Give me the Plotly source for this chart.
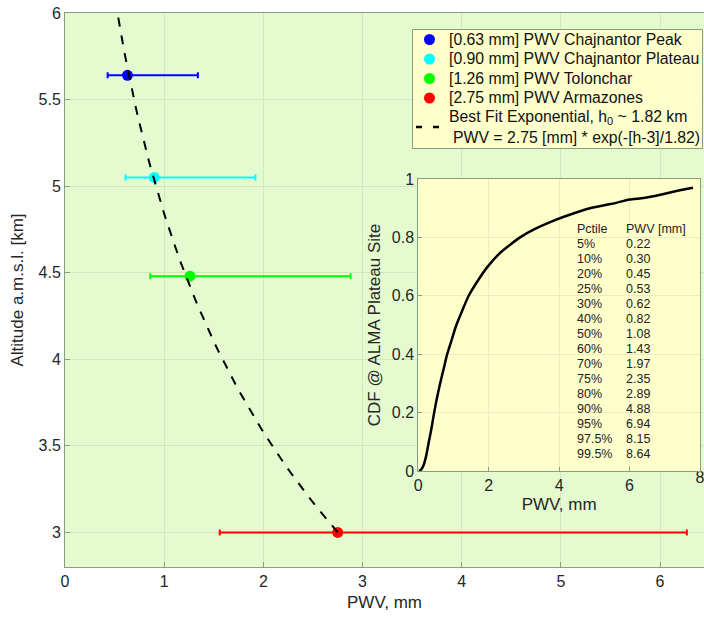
import numpy as np
import plotly.graph_objects as go

# ---- data ----
site_names = ["[0.63 mm] PWV Chajnantor Peak", "[0.90 mm] PWV Chajnantor Plateau",
              "[1.26 mm] PWV Tolonchar", "[2.75 mm] PWV Armazones"]
site_pwv = [0.63, 0.90, 1.26, 2.75]
site_alt = [5.64, 5.05, 4.48, 3.00]
site_pwv_low = [0.43, 0.61, 0.86, 1.56]
site_pwv_high = [1.34, 1.92, 2.88, 6.27]
site_colors = ["#0000FF", "#00FFFF", "#00FF00", "#FF0000"]

FIT_PWV0 = 2.75
FIT_H0 = 1.82
FIT_HREF = 3.0
fit_label_1 = "Best Fit Exponential, h<sub>0</sub> ~ 1.82 km"
fit_label_2 = "PWV = 2.75 [mm] * exp(-[h-3]/1.82)"
fit_h = np.linspace(3.0, 6.0, 61)
fit_pwv = FIT_PWV0 * np.exp(-(fit_h - FIT_HREF) / FIT_H0)

cdf_pwv = [0.02, 0.08, 0.15, 0.22, 0.30, 0.38, 0.45, 0.53, 0.62, 0.72, 0.82, 0.95, 1.08,
           1.25, 1.43, 1.68, 1.97, 2.35, 2.89, 3.30, 3.90, 4.40, 4.88, 5.50, 6.00, 6.40,
           6.94, 7.30, 7.80]
cdf_val = [0.00, 0.005, 0.02, 0.05, 0.10, 0.15, 0.20, 0.25, 0.30, 0.35, 0.40, 0.45, 0.50,
           0.55, 0.60, 0.65, 0.70, 0.75, 0.80, 0.828, 0.86, 0.882, 0.90, 0.915, 0.93, 0.935,
           0.948, 0.958, 0.97]

pctile_labels = ["5%", "10%", "20%", "25%", "30%", "40%", "50%", "60%", "70%",
                 "75%", "80%", "90%", "95%", "97.5%", "99.5%"]
pctile_values = ["0.22", "0.30", "0.45", "0.53", "0.62", "0.82", "1.08", "1.43", "1.97",
                 "2.35", "2.89", "4.88", "6.94", "8.15", "8.64"]

inset_xticks = [0, 2, 4, 6, 8]

FONT = "Liberation Sans, Arial, Helvetica, sans-serif"
GREEN_BG = "#E4FBCF"
YELLOW_BG = "#FFFFCC"
AXCOL = "#8C9C84"

# layout geometry (pixels)
W, H = 704, 620
ML, MR, MT, MB = 65, 0, 13, 53
PW, PH = W - ML - MR, H - MT - MB
INSET_L, INSET_R, INSET_T, INSET_B = 418.3, 700, 179, 471


def px(xp):
    return (xp - ML) / PW


def py(yp):
    return (H - MB - yp) / PH


tickfont = dict(family=FONT, size=16, color="#262626")
titlefont = dict(family=FONT, size=17, color="#262626")

fig = go.Figure()

for name, x, y, lo, hi, c in zip(site_names, site_pwv, site_alt, site_pwv_low, site_pwv_high, site_colors):
    fig.add_trace(go.Scatter(
        x=[x], y=[y], mode="markers", name=name, showlegend=False,
        marker=dict(color=c, size=11, symbol="circle"),
        error_x=dict(type="data", symmetric=False, array=[hi - x], arrayminus=[x - lo],
                     color=c, thickness=2, width=3),
        xaxis="x", yaxis="y"))

fig.add_trace(go.Scatter(
    x=fit_pwv, y=fit_h, mode="lines", showlegend=False,
    line=dict(color="black", width=2, dash="dash"), xaxis="x", yaxis="y"))

fig.add_trace(go.Scatter(
    x=cdf_pwv, y=cdf_val, mode="lines", showlegend=False,
    line=dict(color="black", width=2.5, shape="spline", smoothing=0.5),
    xaxis="x2", yaxis="y2"))

# last inset tick label (partly cut by the page edge, as in the original)
fig.add_trace(go.Scatter(
    x=[inset_xticks[-1]], y=[0], mode="text", text=[str(inset_xticks[-1])],
    textposition="bottom center", textfont=tickfont, cliponaxis=False,
    showlegend=False, hoverinfo="skip", xaxis="x2", yaxis="y2"))

# table in inset
tfont = dict(family=FONT, size=12.5, color="#222")


def ypos(i):
    return 0.829 - 0.0514 * i


fig.add_annotation(x=4.45, y=ypos(0), xref="x2", yref="y2", text="Pctile", showarrow=False,
                   xanchor="left", yanchor="middle", font=tfont)
fig.add_annotation(x=5.85, y=ypos(0), xref="x2", yref="y2", text="PWV [mm]", showarrow=False,
                   xanchor="left", yanchor="middle", font=tfont)
for i, (lab, val) in enumerate(zip(pctile_labels, pctile_values)):
    fig.add_annotation(x=4.45, y=ypos(i + 1), xref="x2", yref="y2", text=lab, showarrow=False,
                       xanchor="left", yanchor="middle", font=tfont)
    fig.add_annotation(x=5.85, y=ypos(i + 1), xref="x2", yref="y2", text=val, showarrow=False,
                       xanchor="left", yanchor="middle", font=tfont)

# green background for main axes
fig.add_shape(type="rect", xref="x domain", yref="y domain", x0=0, x1=1, y0=0, y1=1,
              fillcolor=GREEN_BG, line=dict(width=0), layer="below")

# ---- manual legend ----
fig.add_shape(type="rect", xref="paper", yref="paper",
              x0=px(412.5), x1=px(702.5), y0=py(148.5), y1=py(29.5),
              fillcolor=YELLOW_BG, line=dict(color=AXCOL, width=1), layer="above")
lfont = dict(family=FONT, size=15.8, color="#111")
row_y = [39.5, 59, 78.5, 98]
for name, c, ry in zip(site_names, site_colors, row_y):
    fig.add_shape(type="circle", xref="paper", yref="paper",
                  xsizemode="pixel", ysizemode="pixel",
                  xanchor=px(429.5), yanchor=py(ry), x0=-5.5, x1=5.5, y0=-5.5, y1=5.5,
                  fillcolor=c, line=dict(color=c, width=0), layer="above")
    fig.add_annotation(x=px(447), y=py(ry), xref="paper", yref="paper", text=name,
                       showarrow=False, xanchor="left", yanchor="middle", font=lfont)
fig.add_shape(type="line", xref="paper", yref="paper", x0=px(416), x1=px(440),
              y0=py(127), y1=py(127), line=dict(color="black", width=2.5, dash="6px,11px"),
              layer="above")
fig.add_annotation(x=px(447), y=py(117), xref="paper", yref="paper", text=fit_label_1,
                   showarrow=False, xanchor="left", yanchor="middle", font=lfont)
fig.add_annotation(x=px(451), y=py(137.5), xref="paper", yref="paper", text=fit_label_2,
                   showarrow=False, xanchor="left", yanchor="middle", font=lfont)

fig.update_layout(
    width=W, height=H,
    margin=dict(l=ML, r=MR, t=MT, b=MB, autoexpand=False),
    paper_bgcolor="white",
    plot_bgcolor=YELLOW_BG,
    font=dict(family=FONT, color="#262626"),
    showlegend=False,
    xaxis=dict(domain=[0, 1], range=[0, PW / 99.17], tickvals=[0, 1, 2, 3, 4, 5, 6],
               showgrid=True, gridcolor="#D3E6C3", zeroline=False, automargin=False,
               showline=True, linecolor=AXCOL, linewidth=1, mirror=True,
               ticks="inside", ticklen=5, tickcolor=AXCOL, tickfont=tickfont,
               title=dict(text="PWV, mm", font=titlefont, standoff=6)),
    yaxis=dict(domain=[0, 1], range=[2.8, 6], tickvals=[3, 3.5, 4, 4.5, 5, 5.5, 6],
               showgrid=True, gridcolor="#D3E6C3", zeroline=False, automargin=False,
               showline=True, linecolor=AXCOL, linewidth=1, mirror=True,
               ticks="inside", ticklen=5, tickcolor=AXCOL, tickfont=tickfont,
               title=dict(text="Altitude a.m.s.l. [km]", font=titlefont, standoff=10)),
    xaxis2=dict(domain=[px(INSET_L), px(INSET_R)], range=[0, 8], tickvals=inset_xticks,
                ticktext=[str(t) for t in inset_xticks[:-1]] + [""],
                anchor="y2", showgrid=True, gridcolor="#EBEBC0", zeroline=False, automargin=False,
                showline=True, linecolor=AXCOL, linewidth=1, mirror=True,
                ticks="inside", ticklen=4, tickcolor=AXCOL, tickfont=tickfont,
                title=dict(text="PWV, mm", font=titlefont, standoff=4)),
    yaxis2=dict(domain=[py(INSET_B), py(INSET_T)], range=[0, 1], tickvals=[0, 0.2, 0.4, 0.6, 0.8, 1],
                ticktext=["0", "0.2", "0.4", "0.6", "0.8", "1"],
                anchor="x2", showgrid=True, gridcolor="#EBEBC0", zeroline=False, automargin=False,
                showline=True, linecolor=AXCOL, linewidth=1, mirror=True,
                ticks="inside", ticklen=4, tickcolor=AXCOL, tickfont=tickfont,
                title=dict(text="CDF @ ALMA Plateau Site", font=titlefont, standoff=6)),
)

fig.write_html("out.html")
